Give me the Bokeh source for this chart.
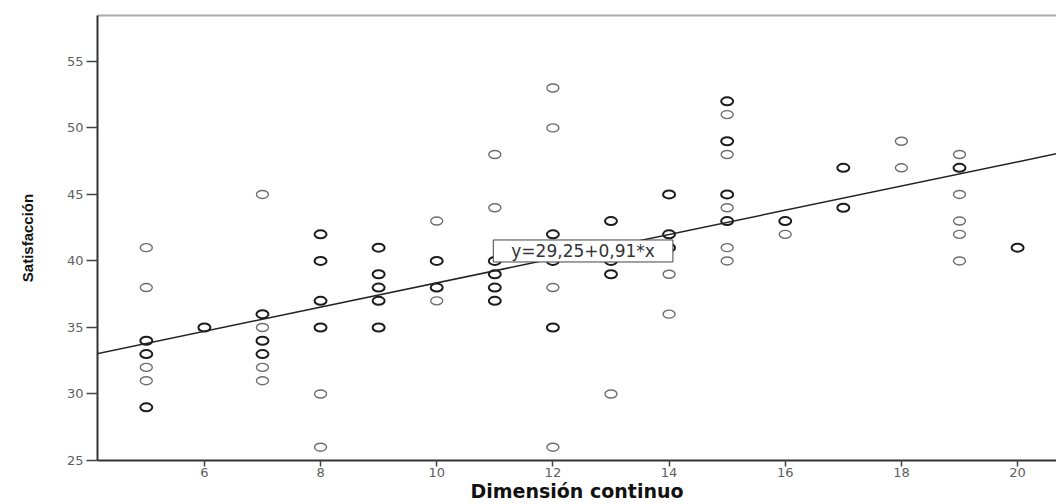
from bokeh.plotting import figure
from bokeh.models import Range1d, FixedTicker, Label, Slope, LinearAxis, ColumnDataSource
from bokeh.embed import file_html
from bokeh.resources import INLINE

# ---- data ----
dim_x = [5, 5, 5, 5, 5, 5, 5,
         6,
         7, 7, 7, 7, 7, 7, 7,
         8, 8, 8, 8, 8, 8,
         9, 9, 9, 9, 9,
         10, 10, 10, 10,
         11, 11, 11, 11, 11, 11,
         12, 12, 12, 12, 12, 12, 12,
         13, 13, 13, 13,
         14, 14, 14, 14, 14,
         15, 15, 15, 15, 15, 15, 15, 15, 15,
         16, 16,
         17, 17,
         18, 18,
         19, 19, 19, 19, 19, 19,
         20]
satisfaccion = [41, 38, 34, 33, 32, 31, 29,
                35,
                45, 36, 35, 34, 33, 32, 31,
                42, 40, 37, 35, 30, 26,
                41, 39, 38, 37, 35,
                43, 40, 38, 37,
                48, 44, 40, 39, 38, 37,
                53, 50, 42, 40, 38, 35, 26,
                43, 40, 39, 30,
                45, 42, 41, 39, 36,
                52, 51, 49, 48, 45, 44, 43, 41, 40,
                43, 42,
                47, 44,
                49, 47,
                48, 47, 45, 43, 42, 40,
                41]
frecuencia = [1, 1, 2, 2, 1, 1, 2,
              2,
              1, 2, 1, 2, 2, 1, 1,
              2, 2, 2, 2, 1, 1,
              2, 2, 2, 2, 2,
              1, 2, 2, 1,
              1, 1, 2, 2, 2, 2,
              1, 1, 2, 2, 1, 2, 1,
              2, 2, 2, 1,
              2, 2, 2, 1, 1,
              2, 1, 2, 1, 2, 1, 2, 1, 1,
              2, 1,
              2, 2,
              1, 1,
              1, 2, 1, 1, 1, 1,
              2]

x_ticks = [6, 8, 10, 12, 14, 16, 18, 20]
y_ticks = [25, 30, 35, 40, 45, 50, 55]
intercept = 29.25
gradient = 0.91
eq_text = "y=29,25+0,91*x"
x_title = "Dimensión continuo"
y_title = "Satisfacción"

# ---- styling derived from frequency ----
colors = ["#1c1c1c" if f > 1 else "#6e6e6e" for f in frecuencia]
widths = [2.0 if f > 1 else 1.4 for f in frecuencia]
src = ColumnDataSource(dict(x=dim_x, y=satisfaccion, c=colors, w=widths))

p = figure(width=1056, height=504, output_backend="svg", toolbar_location=None,
           x_range=Range1d(4.16, 20.67), y_range=Range1d(25, 58.45),
           min_border_left=97, min_border_right=0, min_border_top=15, min_border_bottom=44,
           background_fill_color="white", border_fill_color="white")
p.xgrid.visible = False
p.ygrid.visible = False
p.outline_line_color = None

tick_font = "DejaVu Sans"
for ax in (p.xaxis[0], p.yaxis[0]):
    ax.axis_line_color = "#333333"
    ax.axis_line_width = 2
    ax.major_tick_line_color = "#444444"
    ax.major_tick_line_width = 1.5
    ax.major_tick_in = 0
    ax.minor_tick_line_color = None
    ax.major_label_text_font = tick_font
    ax.major_label_text_font_size = "13px"
    ax.major_label_text_color = "#606060"
    ax.axis_label_text_color = "#111111"
    ax.axis_label_text_font_style = "bold"

xa = p.xaxis[0]
xa.ticker = FixedTicker(ticks=x_ticks)
xa.major_tick_out = 6
xa.major_label_standoff = 1
xa.axis_label = x_title
xa.axis_label_text_font = "DejaVu Sans"
xa.axis_label_text_font_size = "19px"
xa.axis_label_standoff = 0

ya = p.yaxis[0]
ya.ticker = FixedTicker(ticks=y_ticks)
ya.major_tick_out = 11
ya.major_label_standoff = 3
ya.axis_label = y_title
ya.axis_label_text_font = "Liberation Sans"
ya.axis_label_text_font_size = "15px"
ya.axis_label_standoff = 28

# top border line
top = LinearAxis(ticker=FixedTicker(ticks=[]), axis_line_color="#aaaaaa", axis_line_width=2,
                 major_tick_out=0, major_tick_in=0, minor_tick_out=0, minor_tick_in=0,
                 major_label_standoff=0, major_label_text_font_size="0px")
p.add_layout(top, "above")

p.ellipse(x="x", y="y", width=12, height=8, width_units="screen", height_units="screen",
          fill_color=None, line_color="c", line_width="w", source=src)

p.add_layout(Slope(gradient=gradient, y_intercept=intercept, line_color="#222222", line_width=1.5))

p.add_layout(Label(x=12.52, y=40.75, text=eq_text, text_align="center", text_baseline="middle",
                   text_font="DejaVu Sans", text_font_size="17px", text_color="#333333",
                   background_fill_color="white", border_line_color="#444444", border_line_width=1,
                   padding=dict(left=18, right=18, top=1, bottom=1)))

open("out.html", "w").write(file_html(p, INLINE))
